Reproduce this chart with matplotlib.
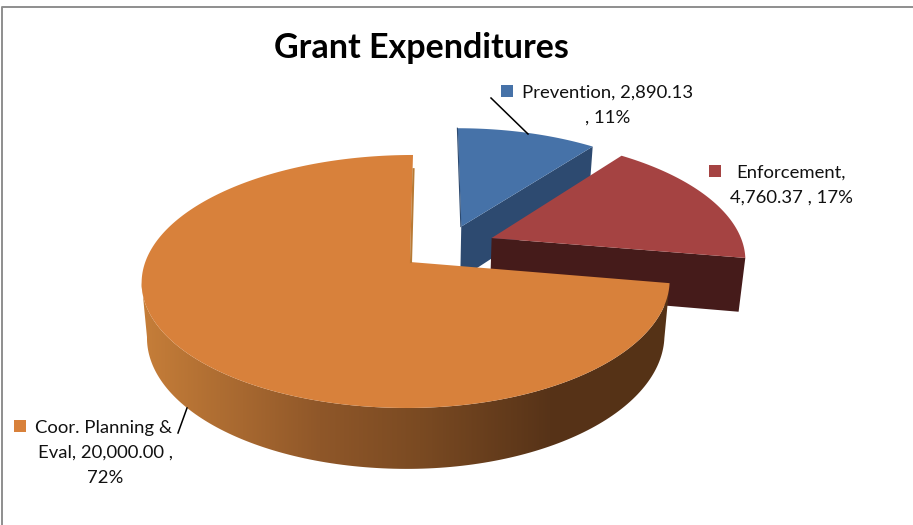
import numpy as np
import matplotlib
matplotlib.use('Agg')
import matplotlib.pyplot as plt
from matplotlib.patches import Polygon, Rectangle
from matplotlib.colors import to_rgb

# chart data, slices run clockwise from 12 o'clock
categories = ['Prevention', 'Enforcement', 'Coor. Planning & Eval']
values = [2890.13, 4760.37, 20000.00]
percents = ['11%', '17%', '72%']

top_colors = ['#4672A8', '#A54342', '#D8813B']
cut_colors = ['#2D4A70', '#451B1A', '#B87A35']
# how far each slice is pulled out, in disc units (right, towards viewer)
explode = [(0.205, -0.30), (0.325, -0.20), (0.0, 0.0)]

# fake 3d projection of the unit disc onto the picture, in pixels
X0, Y0 = 410, 262
B, A = 257, 123.5
K = 0.154
LEAN = 3
LEFT_STRETCH = 1.03
DEPTH = 54
BOTTOM_SCALE = 0.98


def project(u, v, bottom=False):
    u, v = np.asarray(u, float), np.asarray(v, float)
    w = 1 - K * v
    bx = B * u * np.where(u < 0, LEFT_STRETCH, 1.0) / w
    if bottom:
        return X0 - LEAN * v + BOTTOM_SCALE * bx, Y0 + (DEPTH + BOTTOM_SCALE * A * v) / w
    return X0 - LEAN * v + bx, Y0 + A * v / w


def rim(a1, a2, off, n=240):
    t = np.radians(np.linspace(a1, a2, n))
    return off[0] + np.sin(t), off[1] - np.cos(t)


# side shading goes from light on the left to dark on the right
stops_x = [142, 320, 420, 550, 670]
stops_c = [to_rgb(c) for c in ['#C67E39', '#8F5729', '#7A4A22', '#573318', '#553216']]

fig = plt.figure(figsize=(9.13, 5.25), dpi=100)
ax = fig.add_axes([0, 0, 1, 1])

# chart frame
ax.plot([1.5, 1.5, 913], [525, 7, 7], color='#8E8E8E', lw=1.4)

edges = np.concatenate([[0], np.cumsum(values)]) / np.sum(values) * 360

for i in range(len(values)):
    a1, a2 = edges[i], edges[i + 1]
    off = explode[i]
    ru, rv = rim(a1, a2, off)

    if i < 2:
        # cut face on the clockwise end of the slice
        p = [project(off[0], off[1]), project(ru[-1], rv[-1]),
             project(ru[-1], rv[-1], True), project(off[0], off[1], True)]
        ax.add_patch(Polygon(p, closed=True, fc=cut_colors[i], ec='none', zorder=2 * i + 1))
    else:
        # outer wall of the big slice, from the right end round to the left silhouette
        xt, yt = project(ru, rv)
        xb, yb = project(ru, rv, True)
        nt, nb = np.argmin(xt), np.argmin(xb)
        outline = np.r_[np.c_[xt, yt][:nt + 1], np.c_[xb, yb][:nb + 1][::-1]]
        wall = Polygon(outline, closed=True, fc='none', ec='none', transform=ax.transData)
        ax.add_patch(wall)
        xs = np.arange(130, 690)
        grad = np.stack([np.interp(xs, stops_x, [c[k] for c in stops_c]) for k in range(3)], axis=1)
        im = ax.imshow(grad[np.newaxis, :, :], extent=(130, 690, 480, 250), aspect='auto',
                       interpolation='bilinear', zorder=2 * i + 1)
        im.set_clip_path(wall)

    # top face
    tx, ty = project(np.r_[off[0], ru], np.r_[off[1], rv])
    ax.add_patch(Polygon(np.c_[tx, ty], closed=True, fc=top_colors[i], ec='none', zorder=2 * i + 2))

# thin dark edge on the left of the blue slice
bx, by = project([explode[0][0], explode[0][0]], [explode[0][1], explode[0][1] - 1])
ax.plot(bx - 0.4, by, color=cut_colors[0], lw=0.8, zorder=2)

# thin darker sliver on the cut edge of the big slice
sx, sy = project([0, 0], [0, -0.85])
ax.plot(sx + 1.0, sy, color=cut_colors[2], lw=1.5, zorder=7)

# leader lines
ax.plot([491, 528], [98, 134], color='black', lw=1.1, zorder=8)
ax.plot([187, 178], [408, 433], color='black', lw=1.1, zorder=8)

# title
ax.text(421.5, 48, 'Grant Expenditures', family='Lato', weight='bold', fontsize=24.5,
        ha='center', va='center', color='black')

# data labels
swatches = [(501, 85), (709, 165), (14, 420)]
label_lines = [
    ['%s, 2,890.13' % categories[0], ', %s' % percents[0]],
    ['%s,' % categories[1], '4,760.37 , %s' % percents[1]],
    ['Coor. Planning &', 'Eval, 20,000.00 ,', percents[2]],
]
label_x = [(608, 608), (791, 791), (104, 105, 105)]
label_y = [(93, 118), (173, 198), (428, 453, 478)]

for i in range(3):
    ax.add_patch(Rectangle(swatches[i], 12, 12, fc=top_colors[i], ec='none', zorder=8))
    for line, x, y in zip(label_lines[i], label_x[i], label_y[i]):
        ax.text(x, y, line, family='Lato', fontsize=13.3, ha='center', va='center', color='#111111', zorder=9)

ax.set_xlim(0, 913)
ax.set_ylim(525, 0)
ax.axis('off')

fig.savefig('out.png', dpi=100)
